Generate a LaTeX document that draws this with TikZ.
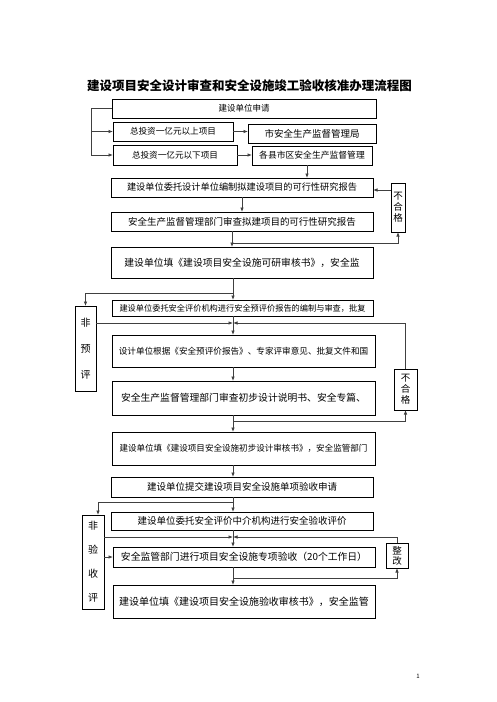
\documentclass[tikz,border=0pt]{standalone}
\usepackage{fontspec}
\setmainfont{Noto Sans CJK SC}
\usetikzlibrary{arrows.meta}
\begin{document}
\begin{tikzpicture}[x=1pt,y=-1pt,
  box/.style={draw=black, line width=0.8pt, inner sep=0pt, outer sep=0pt, align=center},
  conn/.style={draw=black!75, line width=0.8pt},
  arr/.style={conn, -{Latex[length=4.5pt,width=3.6pt]}},
  txt/.style={font=\fontsize{#1}{#1}\selectfont},
  vtxt/.style 2 args={font=\fontsize{#1}{#2}\selectfont}
]
\useasboundingbox[fill=white] (0,0) rectangle (496,702);
% title
\node[font=\fontsize{12.5}{14}\selectfont\bfseries] (title) at (249.5,86) {建设项目安全设计审查和安全设施竣工验收核准办理流程图};
% top boxes
\node[box, minimum width=264pt, minimum height=19pt, txt=8.5] (b1) at (244,108.5) {建设单位申请};
\node[box, minimum width=120pt, minimum height=19pt, txt=8.6] (b2) at (173,131.5) {总投资一亿元以上项目};
\node[box, minimum width=124pt, minimum height=20pt, txt=8.6] (b3) at (175,155) {总投资一亿元以下项目};
\node[box, minimum width=128pt, minimum height=19pt, txt=9.5] (b4) at (312,133.5) {市安全生产监督管理局};
\node[box, minimum width=120pt, minimum height=19pt, txt=8.8] (b5) at (312,155.5) {各县市区安全生产监督管理};
\node[box, minimum width=262pt, minimum height=19pt, txt=9.2] (b6) at (242,187.5) {建设单位委托设计单位编制拟建设项目的可行性研究报告};
\node[box, minimum width=262pt, minimum height=19pt, txt=9.5] (b7) at (242,221.5) {安全生产监督管理部门审查拟建项目的可行性研究报告};
\node[box, minimum width=14pt, minimum height=49pt, vtxt={9.5}{11}] (ng1) at (398,207.5) {不\\合\\格};
\node[box, minimum width=262pt, minimum height=31pt, txt=9.8] (b8) at (242,262.5) {建设单位填《建设项目安全设施可研审核书》，安全监};
\node[box, minimum width=261pt, minimum height=16pt, txt=8.2] (b9) at (242.5,308) {建设单位委托安全评价机构进行安全预评价报告的编制与审查，批复};
\node[box, minimum width=21pt, minimum height=85pt, vtxt={10}{26}] (fy) at (85.5,348.5) {非\\预\\评};
\node[box, minimum width=263pt, minimum height=32pt, txt=8.6] (b10) at (243.5,351) {设计单位根据《安全预评价报告》、专家评审意见、批复文件和国};
\node[box, minimum width=263pt, minimum height=34pt, txt=9.8] (b11) at (243.5,398) {安全生产监督管理部门审查初步设计说明书、安全专篇、};
\node[box, minimum width=23pt, minimum height=41pt, vtxt={9.5}{11}] (ng2) at (405.5,389.5) {不\\合\\格};
\node[box, minimum width=263pt, minimum height=33pt, txt=8.55] (b12) at (243.5,448.5) {建设单位填《建设项目安全设施初步设计审核书》，安全监管部门};
\node[box, minimum width=262pt, minimum height=20pt, txt=9.5] (b13) at (242,487) {建设单位提交建设项目安全设施单项验收申请};
\node[box, minimum width=262pt, minimum height=18pt, txt=9.5] (b14) at (242,521) {建设单位委托安全评价中介机构进行安全验收评价};
\node[box, minimum width=22pt, minimum height=94pt, vtxt={10}{24}] (fys) at (93,562) {非\\验\\收\\评};
\node[box, minimum width=262pt, minimum height=20pt, txt=9.8] (b15) at (244,557) {安全监管部门进行项目安全设施专项验收（20个工作日）};
\node[box, minimum width=22pt, minimum height=25pt, vtxt={9.5}{10}] (zg) at (397,555.5) {整\\改};
\node[box, minimum width=262pt, minimum height=33pt, txt=10] (b16) at (244,601.5) {建设单位填《建设项目安全设施验收审核书》，安全监管};
\node[font=\fontsize{6}{6}\selectfont] (pg) at (418,676) {1};
% junction coordinates
\coordinate (j1) at (91,108.5);
\coordinate (j2) at (232,243);
\coordinate (j3) at (233,293);
\coordinate (j4) at (233,323);
\coordinate (j5) at (233,421);
\coordinate (j6) at (233,502);
\coordinate (j7) at (233,537);
\coordinate (j8) at (233,578);
% connectors
\draw[conn] (b1.west) -- (j1);
\draw[arr] (j1) |- (b2.west);
\draw[arr] (j1) |- (b3.west);
\draw[arr] (b2.east) -- (b2.east -| b4.west);
\draw[arr] (b3.east) -- (b3.east -| b5.west);
\draw[arr] ([xshift=-5pt]b5.south) -- ([xshift=-5pt]b5.south |- b6.north);
\draw[arr] (b6.south) -- (b7.north);
\draw[arr] (ng1.west |- 0,190) -- (b6.east |- 0,190);
\draw[arr] (j2 |- b7.south) -- (j2 |- b8.north);
\draw[arr] (j2) -| (ng1.south);
\draw[arr] (j3 |- b8.south) -- (j3 |- b9.north);
\draw[arr] (j3) -| (fy.north);
\draw[arr] (j4 |- b9.south) -- (j4 |- b10.north);
\draw[arr] (fy.east |- j4) -- (j4);
\draw[arr] (ng2.north) |- (j4);
\draw[arr] (j5 |- b10.south) -- (j5 |- b11.north);
\draw[arr] (j5 |- b11.south) -- (j5 |- b12.north);
\draw[arr] (j5) -| (ng2.south);
\draw[arr] (j6 |- b12.south) -- (j6 |- b13.north);
\draw[arr] (j6 |- b13.south) -- (j6 |- b14.north);
\draw[arr] (j6) -| ([xshift=5pt]fys.north);
\draw[arr] (j7 |- b14.south) -- (j7 |- b15.north);
\draw[arr] (fys.east |- j7) -- (j7);
\draw[arr] (zg.north) |- (j7);
\draw[arr] (fys.east |- b15.west) -- (b15.west);
\draw[arr] (j8 |- b15.south) -- (j8 |- b16.north);
\draw[arr] (j8) -| (zg.south);
\end{tikzpicture}
\end{document}
